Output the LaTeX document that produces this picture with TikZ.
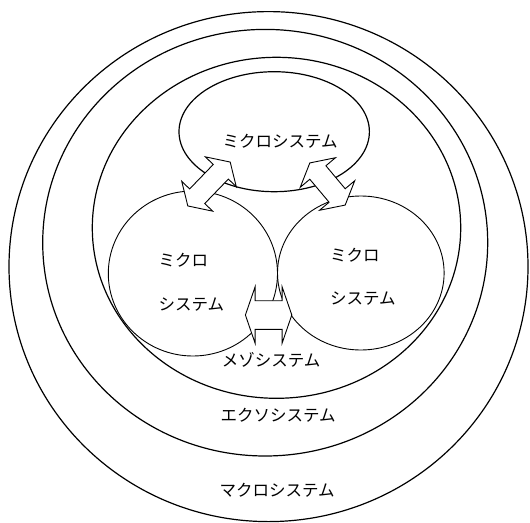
\documentclass[tikz,border=0pt]{standalone}
\usepackage{fontspec}
\newfontfamily\jpfont{Noto Sans CJK JP}
\tikzset{
  ring/.style={draw, line width=1.2pt},
  micro/.style={draw, line width=0.9pt},
  dblarrow/.style={draw, fill=white, line width=0.9pt, line join=miter},
  lbl/.style={font=\jpfont\fontsize{16.5}{18}\selectfont, inner sep=0pt},
}
% center x, center y, angle, half length, head length, head half width, shaft half width
\newcommand\drawdblarrow[7]{%
  \begin{scope}[shift={(#1,#2)}, rotate=#3]
    \path[dblarrow] (#4,0) -- (#4-#5,#6) -- (#4-#5,#7) -- (-#4+#5,#7)
      -- (-#4+#5,#6) -- (-#4,0) -- (-#4+#5,-#6) -- (-#4+#5,-#7)
      -- (#4-#5,-#7) -- (#4-#5,-#6) -- cycle;
  \end{scope}}
\begin{document}
\begin{tikzpicture}[x=1pt,y=-1pt]
  \useasboundingbox (0,0) rectangle (530,522);
  % centres
  \coordinate (macro) at (268.5,266.6);
  \coordinate (exo)   at (265.2,242.7);
  \coordinate (meso)  at (276.5,227.8);
  \coordinate (mtop)  at (274.2,131.7);
  \coordinate (mleft) at (192.9,273.5);
  \coordinate (mright) at (360.8,273);
  % system rings
  \draw[ring] (macro) ellipse [x radius=259.5pt, y radius=255pt];
  \draw[ring] (exo)   ellipse [x radius=222.5pt, y radius=213.3pt];
  \draw[ring] (meso)  ellipse [x radius=184.2pt, y radius=170.5pt];
  % microsystems
  \draw[ring] (mtop)  ellipse [x radius=95.2pt, y radius=60pt];
  \draw[micro] (mleft) ellipse [x radius=84.6pt, y radius=82.5pt];
  \draw[micro] (mright) ellipse [x radius=83.3pt, y radius=77pt];
  % interaction arrows
  \drawdblarrow{209}{184}{46}{30.5}{13.5}{21.5}{10.5}
  \drawdblarrow{327.5}{184}{130}{27.5}{12.5}{23}{10.5}
  \drawdblarrow{268.6}{315}{0}{23.2}{9.7}{28.2}{14.3}
  % labels
  \node[lbl] (ltop) at (280,141.7) {ミクロシステム};
  \node[lbl, anchor=west] (lleft1) at (158.5,260) {ミクロ};
  \node[lbl, anchor=west] (lleft2) at (158.5,305) {システム};
  \node[lbl, anchor=west] (lright1) at (330,255) {ミクロ};
  \node[lbl, anchor=west] (lright2) at (330,298.3) {システム};
  \node[lbl] (lmeso) at (271,360) {メゾシステム};
  \node[lbl] (lexo) at (278,415) {エクソシステム};
  \node[lbl] (lmacro) at (277,490) {マクロシステム};
\end{tikzpicture}
\end{document}
